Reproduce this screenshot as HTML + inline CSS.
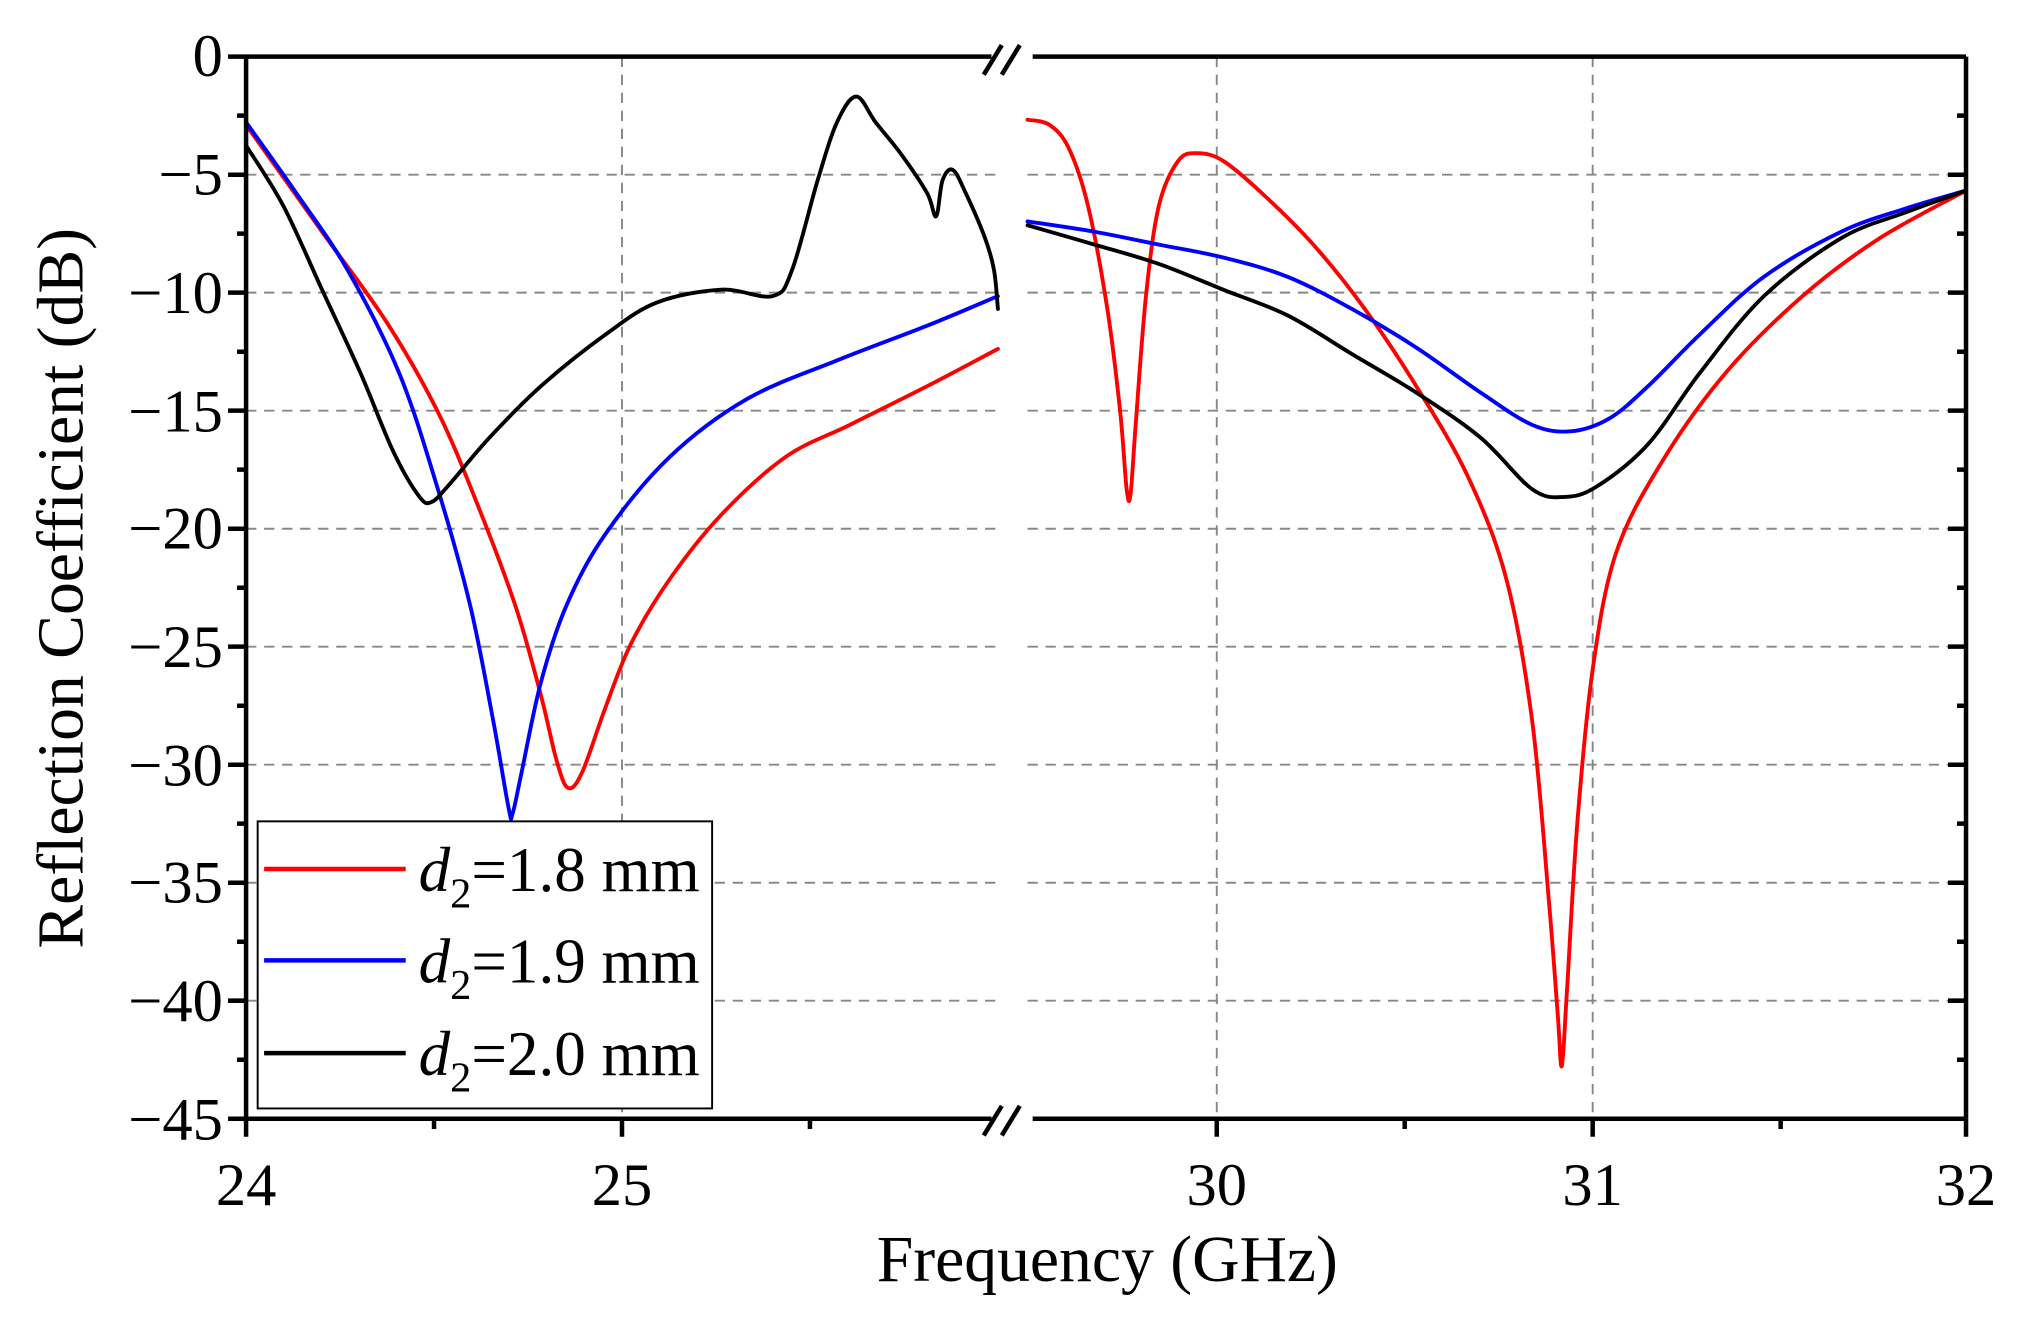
<!DOCTYPE html>
<html><head><meta charset="utf-8"><style>html,body{margin:0;padding:0;background:#fff}svg{display:block}</style></head>
<body>
<svg width="2019" height="1317" viewBox="0 0 1568 1023" xmlns="http://www.w3.org/2000/svg" font-family="Liberation Serif, serif">
<rect width="1568" height="1023" fill="#fff"/>
<g stroke="#888" stroke-width="1.5" stroke-dasharray="8,6" fill="none">
<path d="M191 135.7H775M798 135.7H1527M191 227.3H775M798 227.3H1527M191 319H775M798 319H1527M191 410.7H775M798 410.7H1527M191 502.3H775M798 502.3H1527M191 594H775M798 594H1527M191 685.7H775M798 685.7H1527M191 777.3H775M798 777.3H1527"/>
<path d="M483 44V869M945 44V869M1237 44V869"/>
</g>
<g fill="none" stroke-width="3" stroke-linejoin="round" stroke-linecap="round" id="curves">
<polyline stroke="#f00" points="191,97 250,180 300,250 340,320 370,390 400,470 420,540 432,590 441,612 452,600 470,550 490,500 520,450 560,400 610,355 660,330 720,300 775,271"/>
<polyline stroke="#f00" points="798,93 815,97 830,115 845,160 860,240 870,320 875,380 878,384 882,330 890,230 900,160 915,125 930,119 950,125 980,150 1020,190 1060,240 1100,300 1140,370 1170,450 1190,560 1203,700 1210,790 1213,828 1217,770 1225,640 1237,520 1255,430 1290,360 1340,290 1400,230 1460,185 1527,148"/>
<polyline stroke="#00f" points="191,95 230,150 270,210 310,290 340,380 365,470 383,560 395,628 398,632 405,600 420,530 440,470 470,415 520,355 580,310 650,280 720,253 775,230"/>
<polyline stroke="#00f" points="798,172 850,180 900,190 950,200 1000,215 1050,240 1100,270 1150,305 1190,330 1220,335 1250,325 1280,300 1320,260 1370,215 1430,180 1480,162 1527,148"/>
<polyline stroke="#000" points="191,113 220,160 250,225 280,290 305,350 325,385 335,390 350,375 380,340 420,300 470,260 510,235 560,225 600,230 615,210 635,140 650,95 665,75 680,95 700,120 720,150 727,168 732,140 740,132 750,150 765,185 772,210 775,240"/>
<polyline stroke="#000" points="798,175 850,190 900,205 950,225 1000,245 1050,275 1100,305 1150,340 1190,380 1215,386 1240,378 1280,345 1320,290 1370,230 1430,185 1480,165 1527,148"/>
</g>
<g stroke="#000" stroke-width="3.5" fill="none">
<path d="M191 44V869M1527 44V869M177 44H770M802 44H1527M177 869H770M802 869H1527"/>
<path d="M177 135.7H191M177 227.3H191M177 319H191M177 410.7H191M177 502.3H191M177 594H191M177 685.7H191M177 777.3H191"/>
<path d="M184 89.8H191M184 181.5H191M184 273.2H191M184 364.8H191M184 456.5H191M184 548.2H191M184 639.8H191M184 731.5H191M184 823.2H191"/>
<path d="M1513 135.7H1527M1513 227.3H1527M1513 319H1527M1513 410.7H1527M1513 502.3H1527M1513 594H1527M1513 685.7H1527M1513 777.3H1527"/>
<path d="M1520 89.8H1527M1520 181.5H1527M1520 273.2H1527M1520 364.8H1527M1520 456.5H1527M1520 548.2H1527M1520 639.8H1527M1520 731.5H1527M1520 823.2H1527"/>
<path d="M191 869V883M483 869V883M945 869V883M1237 869V883M1527 869V883M337 869V877M629 869V877M1091 869V877M1383 869V877"/>
<path d="M764 58L778 35M778 58L792 35M764 882L778 859M778 882L792 859"/>
</g>
<g font-size="47" text-anchor="end" fill="#000">
<text x="173" y="59">0</text><text x="173" y="151">−5</text><text x="173" y="243">−10</text><text x="173" y="335">−15</text><text x="173" y="426">−20</text><text x="173" y="518">−25</text><text x="173" y="610">−30</text><text x="173" y="701">−35</text><text x="173" y="793">−40</text><text x="173" y="885">−45</text>
</g>
<g font-size="47" text-anchor="middle" fill="#000">
<text x="191" y="936">24</text><text x="483" y="936">25</text><text x="945" y="936">30</text><text x="1237" y="936">31</text><text x="1527" y="936">32</text>
<text x="860" y="995" font-size="51">Frequency (GHz)</text>
<text transform="translate(64,457) rotate(-90)" font-size="51">Reflection Coefficient (dB)</text>
</g>
<rect x="200" y="638" width="353" height="223" fill="#fff" stroke="#000" stroke-width="1.5"/>
<g stroke-width="3.5"><path d="M205 675H315" stroke="#f00"/><path d="M205 746H315" stroke="#00f"/><path d="M205 818H315" stroke="#000"/></g>
<g font-size="49" fill="#000">
<text x="325" y="692"><tspan font-style="italic">d</tspan><tspan font-size="33" dy="13">2</tspan><tspan dy="-13">=1.8 mm</tspan></text>
<text x="325" y="763"><tspan font-style="italic">d</tspan><tspan font-size="33" dy="13">2</tspan><tspan dy="-13">=1.9 mm</tspan></text>
<text x="325" y="835"><tspan font-style="italic">d</tspan><tspan font-size="33" dy="13">2</tspan><tspan dy="-13">=2.0 mm</tspan></text>
</g>
</svg>
<script>
document.querySelectorAll('#curves polyline').forEach(function(pl){
  var p=pl.getAttribute('points').trim().split(/\s+/).map(function(s){return s.split(',').map(Number);});
  var d='M'+p[0][0]+' '+p[0][1];
  for(var i=0;i<p.length-1;i++){
    var p0=p[i-1]||p[i],p1=p[i],p2=p[i+1],p3=p[i+2]||p2;
    var c1=[p1[0]+(p2[0]-p0[0])/6,p1[1]+(p2[1]-p0[1])/6],c2=[p2[0]-(p3[0]-p1[0])/6,p2[1]-(p3[1]-p1[1])/6];
    d+='C'+c1[0]+' '+c1[1]+' '+c2[0]+' '+c2[1]+' '+p2[0]+' '+p2[1];
  }
  var path=document.createElementNS('http://www.w3.org/2000/svg','path');
  path.setAttribute('d',d);path.setAttribute('stroke',pl.getAttribute('stroke'));
  pl.parentNode.replaceChild(path,pl);
});
</script>
</body></html>
